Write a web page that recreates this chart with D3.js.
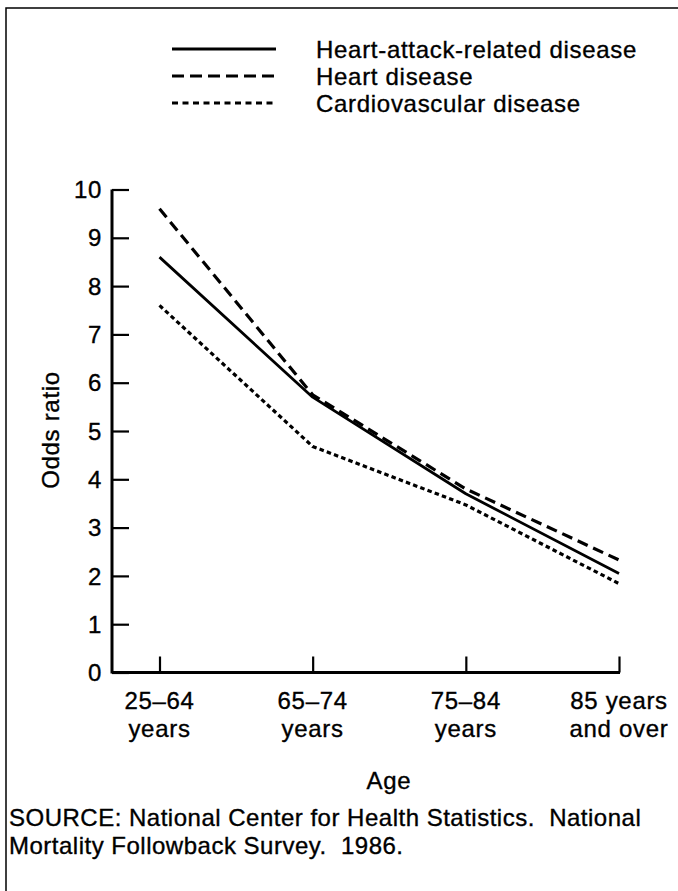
<!DOCTYPE html>
<html>
<head>
<meta charset="utf-8">
<script src="https://cdn.jsdelivr.net/npm/d3@7"></script>
<style>
  html, body { margin: 0; padding: 0; background: #fff; }
  svg text { font-family: "Liberation Sans", Arial, Helvetica, sans-serif; fill: #000; stroke: #000; stroke-width: 0.35px; }
</style>
</head>
<body>
<script>
const categories = ["25–64|years", "65–74|years", "75–84|years", "85 years|and over"];
const seriesNames = ["Heart-attack-related disease", "Heart disease", "Cardiovascular disease"];
const heartAttack = [8.6, 5.7, 3.7, 2.05];
const heartDisease = [9.6, 5.75, 3.8, 2.33];
const cardiovascular = [7.6, 4.68, 3.47, 1.84];
const yTicks = [0, 1, 2, 3, 4, 5, 6, 7, 8, 9, 10];
const yLabel = "Odds ratio";
const xLabel = "Age";
const sourceLines = ["SOURCE: National Center for Health Statistics.  National", "Mortality Followback Survey.  1986."];

const W = 678, H = 891;
const svg = d3.select("body").append("svg").attr("width", W).attr("height", H);

// frame
svg.append("path").attr("d", `M6,${H+5} L6,8 L${W+5},8`).attr("fill", "none").attr("stroke", "#000").attr("stroke-width", 1.5);

const fontSize = 24, ls = "0.7px";

const x = d3.scalePoint().domain(categories).range([159.5, 619]);
const y = d3.scaleLinear().domain([0, 10]).range([672.5, 189.5]);
const axisLeftX = 112;

// y axis line
svg.append("line").attr("x1", axisLeftX).attr("x2", axisLeftX).attr("y1", y(10)).attr("y2", y(0) + 1)
  .attr("stroke", "#000").attr("stroke-width", 3);
// x axis line
svg.append("line").attr("x1", axisLeftX).attr("x2", x(categories[3]) + 1).attr("y1", y(0)).attr("y2", y(0))
  .attr("stroke", "#000").attr("stroke-width", 2.8);

// y ticks (inward)
const yAxis = d3.axisRight(y).tickValues(yTicks).tickSize(17).tickFormat("");
const yg = svg.append("g").attr("transform", `translate(${axisLeftX},0)`).call(yAxis);
yg.select(".domain").remove();
yg.selectAll(".tick line").attr("stroke", "#000").attr("stroke-width", 2.2);
// y tick labels
svg.append("g").selectAll("text").data(yTicks).join("text")
  .attr("x", 102).attr("y", d => y(d)).attr("dy", "0.36em")
  .attr("text-anchor", "end").attr("font-size", fontSize).attr("letter-spacing", ls)
  .text(d => d);

// x ticks (upward)
const xAxis = d3.axisTop(x).tickSize(16).tickFormat("");
const xg = svg.append("g").attr("transform", `translate(0,${y(0)})`).call(xAxis);
xg.select(".domain").remove();
xg.selectAll(".tick line").attr("stroke", "#000").attr("stroke-width", 2.2);
// x labels
const xl = svg.append("g").selectAll("text").data(categories).join("text")
  .attr("text-anchor", "middle").attr("font-size", fontSize).attr("letter-spacing", ls);
xl.each(function(d) {
  const parts = d.split("|");
  const t = d3.select(this);
  parts.forEach((p, i) => {
    t.append("tspan").attr("x", x(d)).attr("y", 709 + i * 28).text(p);
  });
});

// axis titles
svg.append("text").attr("transform", `translate(59,${(y(0)+y(10))/2 - 1}) rotate(-90)`)
  .attr("text-anchor", "middle").attr("font-size", fontSize).attr("letter-spacing", ls).text(yLabel);
svg.append("text").attr("x", 389).attr("y", 789).attr("text-anchor", "middle")
  .attr("font-size", fontSize).attr("letter-spacing", ls).text(xLabel);

// source
svg.append("g").selectAll("text").data(sourceLines).join("text")
  .attr("x", 9).attr("y", (d, i) => 826 + i * 28).attr("font-size", fontSize).attr("letter-spacing", "0.5px")
  .attr("xml:space", "preserve").style("white-space", "pre").text(d => d);

// lines
const styles = [
  { data: heartAttack, dash: null, w: 2.8, legDash: null },
  { data: heartDisease, dash: "11,6", w: 3.2, legDash: "12,6" },
  { data: cardiovascular, dash: "4.5,3.2", w: 3.2, legDash: "6,4.5" }
];
const line = d3.line().x((d, i) => x(categories[i])).y(d => y(d));
styles.forEach(s => {
  svg.append("path").datum(s.data).attr("d", line).attr("fill", "none")
    .attr("stroke", "#000").attr("stroke-width", s.w)
    .attr("stroke-dasharray", s.dash).attr("stroke-linejoin", "round");
});

// legend
const legY = [49, 76, 103];
seriesNames.forEach((name, i) => {
  svg.append("line").attr("x1", 172).attr("x2", 276).attr("y1", legY[i]).attr("y2", legY[i])
    .attr("stroke", "#000").attr("stroke-width", styles[i].w).attr("stroke-dasharray", styles[i].legDash);
  svg.append("text").attr("x", 316).attr("y", legY[i]).attr("dy", "0.36em")
    .attr("font-size", fontSize).attr("letter-spacing", ls).text(name);
});
</script>
</body>
</html>
